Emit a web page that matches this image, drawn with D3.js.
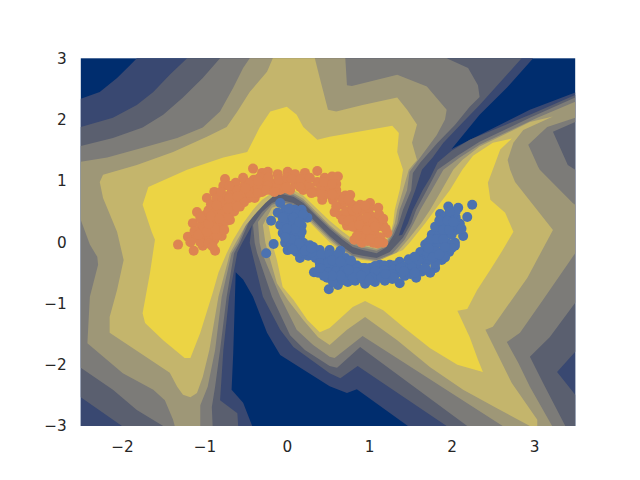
<!DOCTYPE html>
<html>
<head>
<meta charset="utf-8">
<script src="https://cdn.jsdelivr.net/npm/d3@7"></script>
<style>
html,body{margin:0;padding:0;background:#fff}
svg{display:block}
text{font-family:"DejaVu Sans",sans-serif}
</style>
</head>
<body>
<div id="chart"></div>
<script>
const xTicks=[-2,-1,0,1,2,3];
const yTicks=[-3,-2,-1,0,1,2,3];
const xDomain=[-2.5,3.5];
const yDomain=[-3,3];
const levelColors=["#002d6e","#394871","#5a5f6f","#7c7b78","#9e9777","#c4b56c","#ecd444"];

const level1Region=[[-2.5,2.34],[-2.27,2.45],[-2.06,2.68],[-1.9,2.89],[-1.82,3],[2.99,3],[2.67,2.52],[2.34,2.08],[2,1.52],[2.34,1.75],[2.95,2.16],[3.5,2.44],[3.5,-3],[1.47,-3],[.85,-2.4],[.73,-2.46],[.52,-2.35],[-.08,-1.84],[-.24,-1.48],[-.41,-.89],[-.53,-.61],[-.62,-.49],[-.65,-1.81],[-.67,-2.41],[-.53,-2.62],[-.42,-3],[-2.5,-3]];

const level2Upper=[[-2.5,1.88],[-2.11,2.03],[-1.82,2.24],[-1.62,2.45],[-1.42,2.73],[-1.21,3],[2.85,3],[2.34,2.24],[2.14,1.96],[1.9,1.62],[1.77,1.38],[1.64,1.18],[1.56,.85],[1.47,.53],[1.41,.31],[1.35,.07],[1.22,-.13],[1.09,-.24],[.92,-.19],[.8,-.16],[.68,-.04],[.52,.13],[.37,.33],[.2,.56],[.08,.68],[-.08,.71],[-.2,.63],[-.33,.46],[-.42,.28],[-.54,-.01],[-.6,-.17],[-.7,-.89],[-.77,-1.76],[-.81,-2.58],[-.6,-2.79],[-.59,-3],[-2,-3],[-2.5,-2.53]];
const level2Lower=[[1.34,.1],[1.4,.12],[1.47,.31],[1.53,.53],[1.65,.85],[1.74,1.05],[1.83,1.3],[2,1.49],[2.22,1.67],[2.95,2.08],[3.5,2.4],[3.5,-1.79],[3.28,-2.12],[3.5,-2.49],[3.5,-3],[1.94,-3],[.86,-2.02],[.65,-2.22],[.52,-2.14],[.08,-1.71],[-.08,-1.43],[-.29,-.89],[-.42,-.18],[-.45,-.01],[-.42,.31],[-.33,.53],[-.2,.69],[-.08,.77],[.08,.74],[.2,.62],[.37,.4],[.52,.2],[.68,.02],[.8,-.09],[.92,-.13],[1.09,-.18],[1.22,-.06]];

const level3Upper=[[-2.5,1.57],[-2.11,1.7],[-1.75,1.87],[-1.5,2.08],[-1.26,2.36],[-1.02,2.68],[-.81,3],[1.94,3],[2.2,2.84],[2.32,2.56],[2.34,2.37],[2.22,2.21],[2.04,1.91],[1.83,1.62],[1.62,1.3],[1.53,1.13],[1.51,.85],[1.41,.53],[1.36,.31],[1.3,.12],[1.2,-.09],[1.09,-.18],[.92,-.13],[.8,-.08],[.68,.04],[.52,.22],[.37,.41],[.2,.64],[.08,.74],[-.08,.79],[-.23,.71],[-.35,.54],[-.46,.33],[-.57,-.01],[-.64,-.18],[-.73,-.89],[-.81,-1.76],[-.87,-2.36],[-.91,-2.69],[-.9,-3],[-1.5,-3],[-1.82,-2.74],[-2.11,-2.41],[-2.5,-2.05]];
const level3Lower=[[3.5,2.36],[3.5,1.96],[3.23,1.8],[3.41,1.26],[3.5,1.18],[3.5,-.99],[3.19,-1.55],[2.95,-1.87],[3.11,-2.3],[3.38,-3],[2.19,-3],[.89,-1.71],[.61,-2.05],[.52,-2.02],[.22,-1.76],[.04,-1.52],[-.18,-.89],[-.36,-.18],[-.39,-.01],[-.41,.28],[-.37,.36],[-.3,.49],[-.18,.64],[-.08,.69],[.08,.64],[.2,.53],[.37,.3],[.52,.1],[.68,-.08],[.8,-.19],[.92,-.22],[1.09,-.26],[1.25,-.16],[1.41,.07],[1.51,.31],[1.57,.53],[1.7,.85],[1.83,1.18],[2.08,1.42],[2.34,1.64],[2.95,2.03]];

const level4Upper=[[-2.5,1.31],[-2.18,1.38],[-1.75,1.54],[-1.33,1.7],[-1.02,1.87],[-.81,2.13],[-.65,2.52],[-.53,2.84],[-.45,3],[.71,3],[.73,2.56],[.79,2.55],[1.34,2.73],[1.7,2.54],[1.94,2.16],[1.92,2],[1.82,1.75],[1.58,1.31],[1.49,1.15],[1.46,.85],[1.37,.53],[1.34,.31],[1.28,.12],[1.19,-.08],[1.09,-.14],[.92,-.09],[.8,-.04],[.68,.07],[.52,.25],[.37,.44],[.2,.67],[.08,.77],[-.08,.82],[-.24,.72],[-.35,.58],[-.47,.36],[-.59,-.01],[-.67,-.18],[-.79,-.89],[-.87,-1.76],[-.96,-2.36],[-1.05,-2.66],[-1.05,-3],[-1.36,-3],[-1.38,-2.9],[-1.48,-2.58],[-1.62,-2.41],[-1.99,-2.14],[-2.42,-1.65],[-2.39,-.89],[-2.29,-.37],[-2.3,-.24],[-2.39,-.04],[-2.5,.36]];
const level4Lower=[[3.5,2.29],[3.04,2.03],[2.34,1.59],[2.1,1.38],[1.9,1.18],[1.76,.85],[1.62,.53],[1.54,.31],[1.43,.04],[1.28,-.19],[1.09,-.29],[.92,-.26],[.8,-.22],[.68,-.11],[.52,.07],[.37,.27],[.2,.49],[.08,.61],[-.08,.66],[-.18,.61],[-.26,.49],[-.35,.33],[-.33,-.01],[-.3,-.18],[-.08,-.89],[.12,-1.43],[.32,-1.68],[.52,-1.87],[.58,-1.89],[.92,-1.53],[2.62,-3],[3.22,-3],[2.95,-2.36],[2.81,-1.97],[2.67,-1.63],[2.83,-1.48],[3.11,-.94],[3.5,-.18],[3.5,.61],[3.47,.64],[3.07,1.18],[3.05,1.23],[2.93,1.59],[3.16,1.88],[3.5,2.03]];

const level5Upper=[[-.17,3],[-.24,2.78],[-.45,2.45],[-.6,2.13],[-.73,1.88],[-.97,1.72],[-1.38,1.47],[-1.82,1.26],[-2.23,1.1],[-2.27,.98],[-2.23,.72],[-2.06,.17],[-1.98,-.29],[-2.06,-.78],[-2.15,-1.22],[-2.15,-1.48],[-1.78,-1.81],[-1.42,-2.13],[-1.33,-2.36],[-1.26,-2.49],[-1.17,-2.53],[-1.09,-2.46],[-1.02,-2.2],[-.94,-1.76],[-.83,-.89],[-.69,-.18],[-.62,-.01],[-.5,.27],[-.37,.48],[-.26,.64],[-.08,.85],[.08,.8],[.2,.71],[.37,.48],[.52,.28],[.68,.1],[.8,-.01],[.92,-.06],[1.09,-.11],[1.18,-.06],[1.26,.12],[1.31,.31],[1.34,.53],[1.41,.85],[1.48,1.18],[1.58,1.34],[1.52,1.62],[1.58,1.92],[1.46,2.16],[1.34,2.36],[.92,2.24],[.6,2.13],[.5,2.16],[.4,2.68],[.34,3]];
const level5Lower=[[3.23,2.05],[2.95,1.96],[2.34,1.56],[2.13,1.34],[2.02,1.18],[1.88,.85],[1.74,.53],[1.63,.31],[1.47,.04],[1.31,-.21],[1.09,-.31],[.92,-.27],[.8,-.24],[.68,-.14],[.52,.04],[.37,.23],[.2,.46],[.08,.58],[-.06,.62],[-.18,.56],[-.29,.28],[-.26,-.01],[-.2,-.29],[-.12,-.67],[.01,-.94],[.2,-1.27],[.38,-1.55],[.52,-1.68],[.73,-1.43],[.95,-1.22],[1.34,-1.6],[1.74,-2.04],[2.14,-2.41],[2.55,-2.71],[2.95,-3],[3.04,-3],[3.04,-2.9],[2.73,-2.3],[2.55,-1.81],[2.41,-1.43],[2.5,-1.38],[2.92,-.58],[3.23,.2],[2.77,.98],[2.71,1.18],[2.68,1.34],[2.75,1.62],[2.87,1.83]];

const level6Upper=[[0,2.21],[-.2,2.13],[-.33,1.87],[-.48,1.47],[-.77,1.38],[-1.21,1.18],[-1.68,.9],[-1.75,.61],[-1.64,.17],[-1.6,.04],[-1.66,-.5],[-1.75,-1.16],[-1.72,-1.32],[-1.5,-1.6],[-1.24,-1.89],[-1.17,-1.89],[-1.05,-1.48],[-.9,-.83],[-.83,-.5],[-.73,-.18],[-.65,.04],[-.53,.31],[-.41,.53],[-.3,.69],[-.08,.89],[.08,.85],[.2,.76],[.37,.54],[.52,.35],[.68,.17],[.8,.05],[.92,-.01],[1.09,-.06],[1.17,-.03],[1.26,.15],[1.29,.31],[1.31,.53],[1.37,.85],[1.41,1.18],[1.34,1.47],[1.36,1.78],[1.28,1.9],[.52,1.72],[.37,1.67],[.2,1.88],[.12,2.08]];
const level6Lower=[[-.14,.53],[-.23,.33],[-.18,-.01],[-.12,-.29],[-.05,-.73],[.08,-.94],[.25,-1.27],[.4,-1.47],[.52,-1.4],[.8,-1.06],[.95,-.96],[1.17,-1.11],[1.41,-1.38],[1.74,-1.73],[2.07,-2],[2.38,-2.12],[2.32,-1.92],[2.22,-1.55],[2.07,-1.12],[2.19,-1.09],[2.31,-.78],[2.47,-.45],[2.62,-.13],[2.75,.17],[2.65,.48],[2.47,.69],[2.44,.97],[2.53,1.29],[2.59,1.51],[2.73,1.69],[2.5,1.62],[2.26,1.41],[2.13,1.18],[1.98,.85],[1.8,.53],[1.68,.31],[1.49,-.01],[1.41,-.13],[1.22,-.24],[1.09,-.32],[.92,-.29],[.8,-.26],[.68,-.16],[.52,0],[.37,.2],[.2,.43],[.08,.54],[-.06,.58]];

const orangeX=[-1.32,-1.13,-1.02,-.87,-1.2,-1.1,-.99,-.88,-.79,-1.14,-1.04,-.93,-.83,-1.09,-.99,-.9,-.79,-.69,-.97,-.88,-.79,-.67,-.57,-.88,-.75,-.77,-.67,-.57,-.46,-.62,-.51,-.53,-.41,-.4,-.41,-.3,-.28,-.3,-.39,-.23,-.11,-.16,-.2,-.03,.01,.1,.11,-.08,.04,.22,.23,.2,.37,.37,.34,.46,.55,.49,.43,.62,.6,.56,.71,.67,.65,.77,.79,.77,.73,.89,.86,.85,.82,1.01,.99,.96,.94,1.11,1.09,1.06,1.05,1.17,1.22,1.17,.91,.58,
-1.05,-.95,-.85,-1.12,-1,-.9,-.82,-.74,-1.05,-.95,-.87,-.78,-.7,-.64,-.92,-.85,-.78,-.7,-.62,-.52,-.8,-.72,-.6,-.52,-.45,-.7,-.45,-.35,-.33,-.22,-.23,-.12,-.1,0,-.02,.06,.17,.16,.28,.28,.42,.42,.5,.52,.6,.62,.7,.6,.72,.68,.8,.8,.92,.9,.9,.88,1,1.03,1.02,1,.98,1.12,1.12,1.13,1.1,
-1.17,-1.05,-.95,-.9,-1.07,-.97,-.87,-.76,-.72,-.95,-.92,-.82,-.85,-.72,-.6,-.7,-.6,-.5,-.35,-.35,-.25,-.15,0,.3,.45,.55,.55,.68,.75,.85,.95,.97,.75,.8,.88,.9,.97,1.05,1.07,1.17,1.2,1.02,1.12,.85];
const orangeY=[-.04,-.14,-.06,-.14,.09,.07,.07,.04,.1,.31,.27,.2,.2,.49,.44,.4,.33,.36,.72,.61,.56,.53,.58,.82,1.03,.92,.82,.76,.72,.97,.93,1.05,1.2,1.02,.85,1.13,.97,.82,.72,1.15,1.11,.95,.85,.97,1.15,1.11,.95,.85,.85,1.13,.97,.85,1.16,.98,.82,1.05,1.07,.85,.69,1.07,.85,.69,.76,.61,.44,.77,.61,.43,.27,.61,.43,.23,.04,.64,.46,.27,.07,.56,.36,.17,-.01,.27,.15,-.01,-.01,.49,
.17,.12,.12,.18,.35,.3,.28,.34,.4,.52,.5,.45,.45,.5,.62,.72,.68,.63,.68,.65,.82,.75,.85,.8,.8,.92,.97,.9,1.05,1.05,.92,.9,1.02,1.05,.88,1.03,1.03,.9,1.05,.9,.9,.78,.95,.78,.95,.76,.66,.58,.5,.36,.52,.35,.53,.35,.15,.05,.55,.42,.28,.15,.02,.45,.26,.08,-.02,
0,0,-.02,-.07,.12,.17,.22,.2,.4,.3,.42,.38,.6,.55,.58,.72,.75,.88,1,.8,.85,.82,.9,.8,.98,.95,.78,.7,.7,.55,.6,.4,.35,.25,.28,.1,.2,.32,.25,.38,.22,.05,0,.1];
const blueX=[-.25,-.16,-.19,-.08,-.02,-.11,-.01,-.08,.04,.1,.18,.25,.12,.04,.14,.18,-.05,.06,.16,-.02,.09,.2,.01,.12,.23,.32,.4,.52,.65,.16,.26,.35,.46,.58,.71,.8,.33,.44,.55,.67,.79,.91,1.01,1.13,1.25,1.37,1.5,1.62,.49,.61,.73,.86,.99,1.11,1.23,1.35,1.47,1.58,1.69,1.79,1.68,1.76,1.86,1.86,1.96,2.08,1.99,1.92,1.8,2,2.1,2.14,2.04,1.9,1.97,2.04,1.88,1.8,1.74,1.57,1.37,1.19,1.07,.95,.83,.74,.62,.51,1.74,2.25,2.19,1.5,1.28,
-.02,.06,.12,.2,0,.08,.02,.1,.18,.1,.05,.17,.28,.2,.3,.42,.52,.62,.85,.95,1.07,1.18,1.3,.4,.5,.61,.72,.85,.38,.5,.6,.7,.85,.95,1.07,1.18,1.3,1.42,1.52,.56,.68,.8,.92,1.03,1.15,1.28,1.43,1.64,1.7,1.62,1.8,1.72,1.85,1.95,1.85,2,1.8,1.93,1.92,2.05,2.05,2.12,1.92,1.8,1.85,2,1.68,1.55,1.48,1.38,
1.75,1.82,1.9,1.9,1.97,1.95,2.02,2.05,1.98,1.72,1.77,1.85,1.92,1.6,1.55,1.42,1.3,1.2,1,.9,.75,.65,.55,.45,.4,.55,.65,.78,.15,.05,.1,0,.08,.15,-.05,.03,-.02,.07,.22,.3];
const blueY=[-.18,-.03,.35,.64,.53,.48,.36,.28,.46,.53,.53,.4,.36,.23,.23,.27,.15,.1,.1,-.01,-.04,-.01,-.13,-.16,-.09,-.08,-.13,-.13,-.14,-.26,-.22,-.26,-.26,-.26,-.26,-.37,-.49,-.42,-.42,-.41,-.49,-.42,-.42,-.37,-.37,-.32,-.29,-.16,-.58,-.55,-.53,-.57,-.55,-.55,-.52,-.5,-.45,-.42,-.32,-.26,-.04,.12,.27,.46,.58,.56,.43,.12,-.04,.27,.3,.1,-.01,-.13,-.16,-.06,-.29,-.42,-.5,-.58,-.67,-.63,-.65,-.68,-.63,-.65,-.7,-.77,-.13,.61,.41,-.52,-.6,
.42,.53,.46,.45,.3,.3,.15,.17,.17,.03,-.06,-.08,-.05,-.17,-.17,-.2,-.2,-.2,-.38,-.42,-.39,-.38,-.38,-.34,-.34,-.34,-.36,-.43,-.5,-.5,-.48,-.47,-.5,-.5,-.48,-.46,-.45,-.4,-.38,-.65,-.62,-.58,-.6,-.58,-.58,-.52,-.55,-.48,-.2,-.28,-.15,0,0,-.02,.14,.12,.25,.27,.42,.4,.2,.22,-.25,-.35,.35,-.1,-.42,-.5,-.28,-.42,
.05,.05,.05,.2,.2,.35,.33,.5,.5,-.1,-.25,-.2,-.08,-.3,-.24,-.48,-.58,-.52,-.62,-.55,-.45,-.55,-.55,-.55,-.42,-.3,-.32,-.3,-.02,.05,.22,.22,.4,.33,.4,.55,.08,-.12,-.14,-.1];

const layers=[[1,level1Region],[2,level2Upper],[2,level2Lower],[3,level3Upper],[3,level3Lower],[4,level4Upper],[4,level4Lower],[5,level5Upper],[5,level5Lower],[6,level6Upper],[6,level6Lower]];

const width=640,height=480;
const x=d3.scaleLinear().domain(xDomain).range([80.8,575.2]);
const y=d3.scaleLinear().domain(yDomain).range([426,58.3]);
const svg=d3.select("#chart").append("svg").attr("width",width).attr("height",height);
const line=d3.line().x(d=>x(d[0])).y(d=>y(d[1])).curve(d3.curveLinearClosed);

svg.append("rect").attr("x",x(xDomain[0])).attr("y",y(yDomain[1]))
  .attr("width",x(xDomain[1])-x(xDomain[0])).attr("height",y(yDomain[0])-y(yDomain[1]))
  .attr("fill",levelColors[0]);
svg.append("g").selectAll("path").data(layers).join("path")
  .attr("d",d=>line(d[1])).attr("fill",d=>levelColors[d[0]]);

svg.append("g").selectAll("circle").data(orangeX).join("circle")
  .attr("cx",d=>x(d)).attr("cy",(d,i)=>y(orangeY[i])).attr("r",5).attr("fill","#dd8452");
svg.append("g").selectAll("circle").data(blueX).join("circle")
  .attr("cx",d=>x(d)).attr("cy",(d,i)=>y(blueY[i])).attr("r",5).attr("fill","#4c72b0");

const fmt=d3.format("d");
const xAxis=d3.axisBottom(x).tickValues(xTicks).tickFormat(fmt).tickSize(0).tickPadding(15);
const yAxis=d3.axisLeft(y).tickValues(yTicks).tickFormat(fmt).tickSize(0).tickPadding(14);
const gx=svg.append("g").attr("transform","translate(0,426)").call(xAxis);
const gy=svg.append("g").attr("transform","translate(80.8,0)").call(yAxis);
for(const g of [gx,gy]){
  g.select(".domain").remove();
  g.selectAll("text").attr("fill","#262626").style("font-size","15.28px").style("font-family",'"DejaVu Sans",sans-serif');
}
</script>
</body>
</html>
